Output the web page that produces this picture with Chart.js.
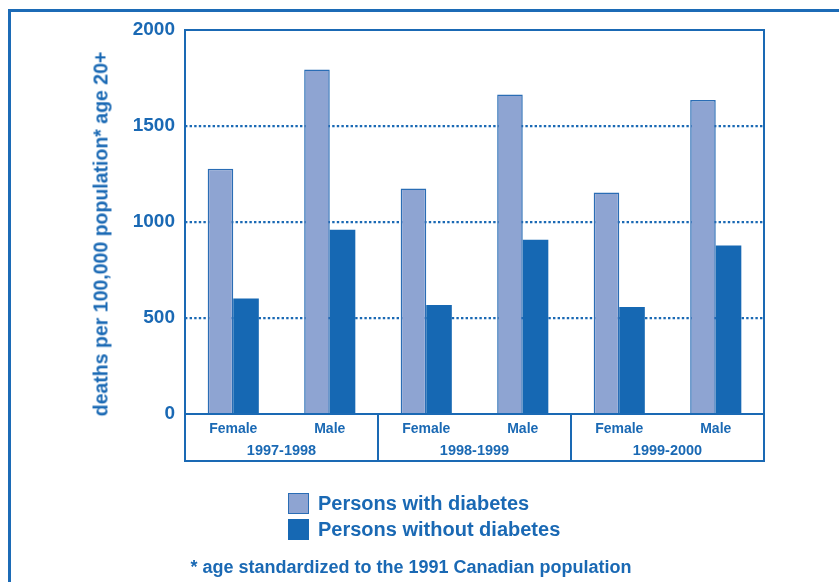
<!DOCTYPE html>
<html>
<head>
<meta charset="utf-8">
<script src="https://cdn.jsdelivr.net/npm/chart.js@4.4.1/dist/chart.umd.min.js"></script>
<style>
  html, body { margin: 0; padding: 0; background: #fff; }
  body { width: 839px; height: 582px; position: relative; overflow: hidden;
         font-family: 'Liberation Sans', Arial, sans-serif; font-weight: bold; color: #1a69b4; }
  #frame { position: absolute; left: 8px; top: 9px; width: 900px; height: 700px;
           border-left: 3px solid #1c6bb6; border-top: 3px solid #1c6bb6; }
  #chart { position: absolute; left: 0; top: 0; }
  #ytitle { position: absolute; left: 101px; top: 234px; white-space: nowrap; font-size: 19.5px;
            transform: translate(-50%, -50%) rotate(-90deg); }
  #legend { position: absolute; left: 288px; top: 490px; }
  .leg-row { display: flex; align-items: center; height: 26px; font-size: 20px; }
  .leg-box { width: 21px; height: 21px; box-sizing: border-box; margin-right: 9px; }
  #note { position: absolute; left: 411px; top: 567px; transform: translate(-50%, -50%);
          white-space: nowrap; font-size: 18px; }
</style>
</head>
<body>
<div id="frame"></div>
<canvas id="chart" width="839" height="582"></canvas>
<div id="ytitle">deaths per 100,000 population* age 20+</div>
<div id="legend"></div>
<div id="note">* age standardized to the 1991 Canadian population</div>

<script>
/* ── Data ── */
const SEXES = ['Female', 'Male', 'Female', 'Male', 'Female', 'Male'];
const PERIODS = ['1997-1998', '1998-1999', '1999-2000'];
const WITH_DIABETES = [1277, 1794, 1175, 1664, 1154, 1636];
const WITHOUT_DIABETES = [601, 960, 568, 908, 557, 877];
const SERIES_NAMES = ['Persons with diabetes', 'Persons without diabetes'];

const BLUE = '#1a69b4';
const LIGHT = '#8ea4d2';
const DARK = '#1668b3';
const FONT = "'Liberation Sans', Arial, sans-serif";

/* ── Box around the plot and under the axis ── */
const boxPlugin = {
  id: 'boxes',
  afterDraw(chart) {
    const { ctx, chartArea: a, scales } = chart;
    const x = scales.x, x2 = scales.x2;
    ctx.save();
    ctx.strokeStyle = BLUE;
    ctx.lineWidth = 2;
    ctx.strokeRect(a.left, a.top, a.right - a.left, a.bottom - a.top);
    const b = x2.bottom;
    ctx.strokeRect(a.left, a.bottom, a.right - a.left, b - a.bottom);
    ctx.beginPath();
    [1, 3].forEach(i => {
      const px = Math.round((x.getPixelForValue(i) + x.getPixelForValue(i + 1)) / 2);
      ctx.moveTo(px, a.bottom);
      ctx.lineTo(px, b);
    });
    ctx.stroke();
    ctx.restore();
  }
};

const chart = new Chart(document.getElementById('chart'), {
  type: 'bar',
  data: {
    labels: SEXES,
    datasets: [
      { label: SERIES_NAMES[0], data: WITH_DIABETES, backgroundColor: LIGHT,
        borderColor: '#2a6db5', borderWidth: 1.5 },
      { label: SERIES_NAMES[1], data: WITHOUT_DIABETES, backgroundColor: DARK,
        borderColor: DARK, borderWidth: 0 }
    ]
  },
  options: {
    responsive: false,
    animation: false,
    datasets: { bar: { categoryPercentage: 0.53, barPercentage: 1 } },
    layout: { padding: { left: 88, top: 30, right: 75, bottom: 121 } },
    plugins: { legend: { display: false }, tooltip: { enabled: false } },
    scales: {
      y: {
        min: 0, max: 2000,
        ticks: { stepSize: 500, padding: 10, color: BLUE,
                 callback: v => String(v),
                 font: { family: FONT, size: 19, weight: 'bold' } },
        grid: {
          drawTicks: false,
          color: c => (c.tick.value === 0 || c.tick.value === 2000) ? 'rgba(0,0,0,0)' : BLUE,
          lineWidth: 2.2
        },
        border: { display: false, dash: [2.4, 2.2] },
        afterFit: s => { s.width = 97; }
      },
      x: {
        grid: { display: false, drawTicks: false },
        border: { display: false },
        ticks: { padding: 7, color: BLUE, font: { family: FONT, size: 14, weight: 'bold' } },
        afterFit: s => { s.height = 25; }
      },
      x2: {
        type: 'category',
        labels: PERIODS,
        position: 'bottom',
        offset: true,
        grid: { display: false, drawTicks: false },
        border: { display: false },
        ticks: { padding: 3, color: BLUE, font: { family: FONT, size: 14.5, weight: 'bold' } },
        afterFit: s => { s.height = 22; }
      }
    }
  },
  plugins: [boxPlugin]
});

/* ── Legend (stacked, built from datasets) ── */
const legend = document.getElementById('legend');
chart.data.datasets.forEach(ds => {
  const row = document.createElement('div');
  row.className = 'leg-row';
  const box = document.createElement('span');
  box.className = 'leg-box';
  box.style.background = ds.backgroundColor;
  box.style.border = ds.borderWidth ? '1.5px solid ' + ds.borderColor : 'none';
  const txt = document.createElement('span');
  txt.textContent = ds.label;
  row.appendChild(box);
  row.appendChild(txt);
  legend.appendChild(row);
});
</script>
</body>
</html>
